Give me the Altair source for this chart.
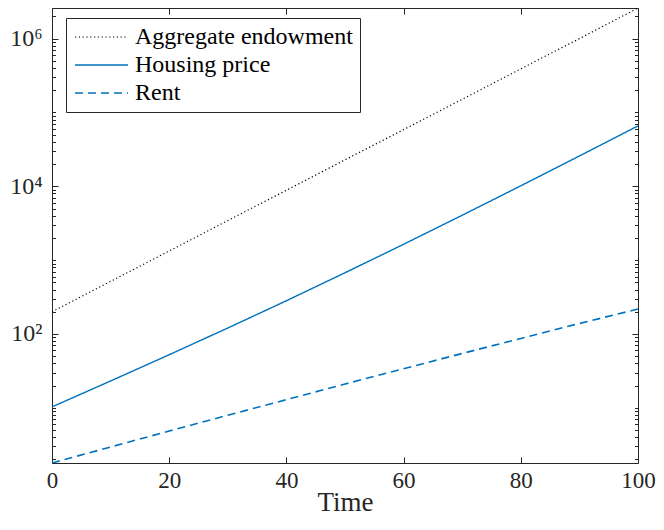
import altair as alt
import pandas as pd

# ---- data ----
time = [0, 10, 20, 30, 40, 50, 60, 70, 80, 90, 100]
endowment = [200, 515, 1330, 3430, 8840, 22800, 58700, 151000, 390000, 1000000, 2600000]
housing = [10.3, 23.1, 52.4, 120.5, 282, 675, 1641, 4055, 10160, 25760, 65770]
rent = [1.79, 2.95, 4.85, 7.94, 12.9, 21.0, 33.9, 54.5, 87.1, 138.7, 218]

series = ["Aggregate endowment", "Housing price", "Rent"]
colors = ["#000000", "#0072BD", "#0072BD"]
dashes = [[1.2, 2.6], [1, 0], [8, 5]]
widths = [1.2, 1.6, 1.6]

x_ticks = [0, 20, 40, 60, 80, 100]
major_ticks = [100, 10000, 1000000]
major_labels = ["10²", "10⁴", "10⁶"]

rows = []
for name, vals in zip(series, [endowment, housing, rent]):
    for t, v in zip(time, vals):
        rows.append({"t": t, "v": v, "series": name})
df = pd.DataFrame(rows)

ymin = min(rent)
ymax = max(endowment)
minor_ticks = [m * 10 ** k for k in range(0, 7) for m in range(1, 10)
               if ymin <= m * 10 ** k <= ymax and m * 10 ** k not in major_ticks]

W, H = 586, 455
FONT = "Liberation Serif"
TXT = "#262626"

label_expr = "''"
for v, lab in zip(reversed(major_ticks), reversed(major_labels)):
    label_expr = f"datum.value == {v} ? '{lab}' : ({label_expr})"


def xs():
    return alt.Scale(domain=[0, 100], nice=False, zero=False)


def ys():
    return alt.Scale(type="log", domain=[ymin, ymax], nice=False)


lines = alt.Chart(df).mark_line(clip=True).encode(
    x=alt.X("t:Q", scale=xs(), axis=alt.Axis(
        title="Time", values=x_ticks, ticks=False, domain=False, grid=False,
        labelFont=FONT, labelFontSize=23, labelColor=TXT, labelPadding=6,
        titleFont=FONT, titleFontSize=27, titleColor=TXT, titleFontWeight="normal",
        titleBaseline="alphabetic", titleY=47, labelFlush=False)),
    y=alt.Y("v:Q", scale=ys(), axis=alt.Axis(
        title=None, values=major_ticks, labelExpr=label_expr, ticks=False,
        domain=False, grid=False, labelFont=FONT, labelFontSize=24,
        labelColor=TXT, labelPadding=10, labelFlush=False)),
    color=alt.Color("series:N", scale=alt.Scale(domain=series, range=colors), title=None),
    strokeDash=alt.StrokeDash("series:N", scale=alt.Scale(domain=series, range=dashes), title=None),
    strokeWidth=alt.StrokeWidth("series:N", scale=alt.Scale(domain=series, range=widths), title=None),
)


def tick_axis(orient, offset, values, size):
    return alt.Axis(orient=orient, offset=offset, values=values, labels=False,
                    domain=False, grid=False, title=None, tickSize=size,
                    tickColor=TXT, tickWidth=1)


ghost = alt.Chart(df).mark_point(opacity=0, size=1)

layer_a = ghost.encode(
    x=alt.X("t:Q", scale=xs(), axis=tick_axis("top", -H, x_ticks, 6)),
    y=alt.Y("v:Q", scale=ys(), axis=tick_axis("right", -W, major_ticks, 6)),
)
layer_b = ghost.encode(
    x=alt.X("t:Q", scale=xs(), axis=tick_axis("bottom", -H, x_ticks, 6)),
    y=alt.Y("v:Q", scale=ys(), axis=tick_axis("left", -W, major_ticks, 6)),
)
layer_c = ghost.encode(
    x=alt.X("t:Q", scale=xs(), axis=None),
    y=alt.Y("v:Q", scale=ys(), axis=tick_axis("right", -W, minor_ticks, 3.5)),
)
layer_d = ghost.encode(
    x=alt.X("t:Q", scale=xs(), axis=None),
    y=alt.Y("v:Q", scale=ys(), axis=tick_axis("left", -W, minor_ticks, 3.5)),
)

chart = alt.layer(lines, layer_a, layer_b, layer_c, layer_d).resolve_scale(
    x="independent", y="independent"
).properties(
    width=W, height=H,
    autosize=alt.AutoSizeParams(type="none"),
    padding={"left": 44, "top": 0, "right": 18, "bottom": 55},
    background="white",
).configure_view(
    stroke=TXT, strokeWidth=1
).configure_legend(
    orient="none", legendX=14, legendY=10,
    fillColor="white", strokeColor=TXT, padding=7, cornerRadius=0,
    labelFont=FONT, labelFontSize=24, labelColor="#000000",
    symbolType="M-1,0H4.3", symbolSize=400, labelOffset=38,
    rowPadding=4, labelLimit=400,
)

chart.save("out.html", embed_options={"renderer": "svg", "actions": False})
